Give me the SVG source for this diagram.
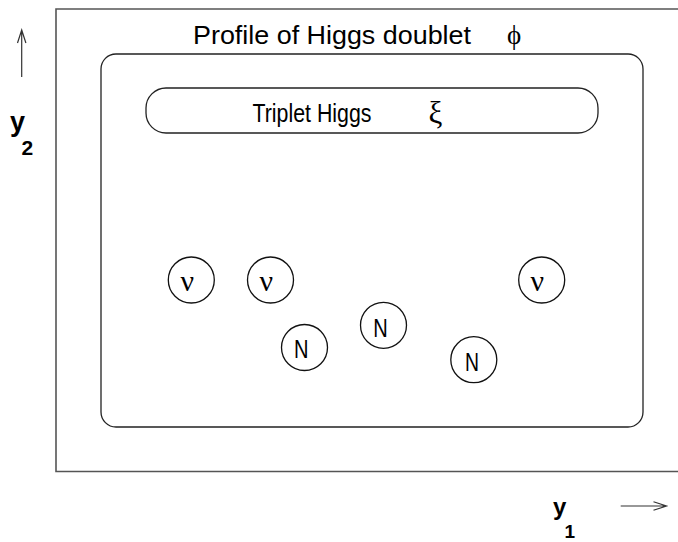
<svg xmlns="http://www.w3.org/2000/svg" width="678" height="542" viewBox="0 0 678 542">
<style>
.frame{fill:none;stroke:#555;stroke-width:1.6}
.box{fill:none;stroke:#222;stroke-width:1.3}
.node{fill:#fff;stroke:#111;stroke-width:1.3}
.sans{font-family:"Liberation Sans",Arial,sans-serif;fill:#000}
.serif{font-family:"Liberation Serif","DejaVu Serif",serif;fill:#000}
.ax{fill:none;stroke:#333;stroke-width:1.2}
</style>
<g id="outer-frame">
<path class="frame" d="M680 9 H56 V471.5 H680"/>
<text class="sans" x="193" y="44" font-size="26" textLength="278" lengthAdjust="spacingAndGlyphs">Profile of Higgs doublet</text>
<text class="serif" x="507" y="44" font-size="27">ϕ</text>
</g>
<g id="inner-box">
<rect class="box" x="101" y="54" width="542" height="373" rx="15" ry="15"/>
</g>
<g id="triplet">
<rect class="box" x="146" y="88" width="452" height="45" rx="20" ry="20"/>
<text class="sans" x="252.5" y="121.7" font-size="25.5" textLength="119" lengthAdjust="spacingAndGlyphs">Triplet Higgs</text>
<text class="serif" x="428.5" y="123" font-size="31">ξ</text>
</g>
<g id="nu1"><circle class="node" cx="191.3" cy="280" r="23"/><text class="serif" x="180.5" y="291" font-size="30">ν</text></g>
<g id="nu2"><circle class="node" cx="270.5" cy="280" r="23"/><text class="serif" x="259.5" y="291" font-size="30">ν</text></g>
<g id="nu3"><circle class="node" cx="541.7" cy="280" r="23"/><text class="serif" x="530.5" y="291" font-size="30">ν</text></g>
<g id="N1"><circle class="node" cx="304.5" cy="347.5" r="23"/><text class="sans" x="294" y="358.3" font-size="25" textLength="14.5" lengthAdjust="spacingAndGlyphs">N</text></g>
<g id="N2"><circle class="node" cx="383.5" cy="325.3" r="23"/><text class="sans" x="373.3" y="336.5" font-size="25" textLength="14.5" lengthAdjust="spacingAndGlyphs">N</text></g>
<g id="N3"><circle class="node" cx="473.8" cy="359.7" r="23"/><text class="sans" x="465" y="370.7" font-size="25" textLength="14" lengthAdjust="spacingAndGlyphs">N</text></g>
<g id="axis-y2">
<path class="ax" d="M21.7 77 V30 M17.5 43 L21.7 30 L25.9 43"/>
<text class="sans" x="10" y="131" font-size="27" font-weight="bold">y</text>
<text class="sans" x="21.5" y="155" font-size="21" font-weight="bold">2</text>
</g>
<g id="axis-y1">
<path class="ax" d="M620.7 506 H666.5 M653.5 501.8 L666.5 506 L653.5 510.2"/>
<text class="sans" x="553" y="515" font-size="24" font-weight="bold">y</text>
<text class="sans" x="564.5" y="537.5" font-size="19" font-weight="bold">1</text>
</g>
</svg>
